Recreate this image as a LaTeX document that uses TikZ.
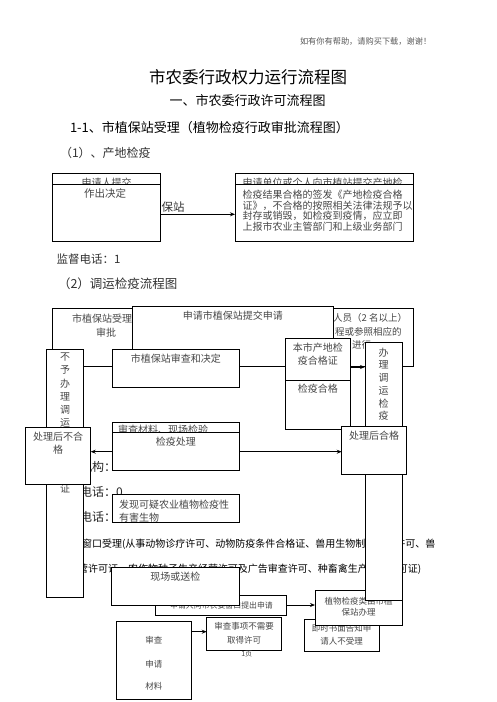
\documentclass[tikz,border=0pt]{standalone}
\usepackage{fontspec}
\setmainfont{Noto Sans CJK SC}
\usetikzlibrary{arrows.meta,fit}
\newcommand\fz[1]{\fontsize{#1}{#1}\selectfont}
\begin{document}
\begin{tikzpicture}[x=1pt,y=-1pt,
  bx/.style={draw=black, fill=white, line width=0.9pt, inner sep=0pt, outer sep=0pt},
  tx/.style={inner sep=0pt, outer sep=0pt, text=black!72},
  hd/.style={inner sep=0pt, outer sep=0pt, text=black},
  arr/.style={line width=0.9pt, -{Stealth[length=5pt,width=4pt]}},
  edge/.style={line width=0.9pt}]
\useasboundingbox[fill=white] (0,0) rectangle (496,702);

% header texts
\node[hd,text=black!65,font=\fz{8.2},anchor=west] (note) at (300,41) {如有你有帮助，请购买下载，谢谢！};
\node[hd,font=\fz{16.5}] (title) at (248,77) {市农委行政权力运行流程图};
\node[hd,font=\fz{13}] (sub) at (247.5,101) {一、市农委行政许可流程图};
\node[hd,font=\fz{13},anchor=west] (h11) at (70,128) {1-1、市植保站受理（植物检疫行政审批流程图）};
\node[hd,text=black!80,font=\fz{12},anchor=west] (h1) at (60,153) {（1）、产地检疫};

% section (1)
\node[bx, fit={(52.3,173.3)(160,241)}] (pa) {};
\begin{scope}
\clip (52.3,173.3) rectangle (160,184.3);
\node[tx,font=\fz{10}] (pah) at (106.7,183) {申请人提交};
\end{scope}
\draw[edge] (pa.west |- 0,184.3) -- (pa.east |- 0,184.3);
\node[tx,font=\fz{10.5}] (pat) at (105,193.7) {作出决定};

\node[bx, fit={(235,173.3)(413.3,241)}] (pb) {};
\begin{scope}
\clip (235,173.3) rectangle (413.3,184.3);
\node[tx,font=\fz{10},anchor=west] (pbh) at (242.7,183) {申请单位或个人向市植站提交产地检};
\end{scope}
\draw[edge] (pb.west |- 0,184.3) -- (pb.east |- 0,184.3);
\node[tx,font=\fz{10},anchor=west] (pb1) at (242.7,195) {检疫结果合格的签发《产地检疫合格};
\node[tx,font=\fz{10},anchor=west] (pb2) at (242.7,205.4) {证》，不合格的按照相关法律法规予以};
\node[tx,font=\fz{10},anchor=west] (pb3) at (242.7,215.8) {封存或销毁，如检疫到疫情，应立即};
\node[tx,font=\fz{10},anchor=west] (pb4) at (242.7,226.2) {上报市农业主管部门和上级业务部门};
\node[hd,text=black!80,font=\fz{11.5},anchor=west] (bz) at (161.7,206.7) {保站};
\draw[arr] (pa.east |- 0,214.3) -- (pb.west |- 0,214.3);

\node[hd,text=black!80,font=\fz{11.5},anchor=west] (jd1) at (56.7,259) {监督电话：1};
\node[hd,text=black!80,font=\fz{12.5},anchor=west] (h2) at (58,284) {（2）调运检疫流程图};

% section (2)
\node[bx, fit={(52.3,308.3)(150,366)}] (su) {};
\node[tx,font=\fz{10}] (su1) at (102,319) {市植保站受理};
\node[tx,font=\fz{10}] (su2) at (106,332.3) {审批};

\node[bx, fit={(300,308.3)(413.3,366)}] (jr) {};
\node[tx,font=\fz{9.5},anchor=east] (jr1) at (407,318) {检人员（2 名以上）};
\node[tx,font=\fz{9.5},anchor=east] (jr2) at (401.5,331.5) {程或参照相应的};
\node[tx,font=\fz{9.5},anchor=west] (jr3) at (352,345) {进行};

\node[bx, fit={(132.3,306)(333.3,366)}] (sq) {};
\node[tx,font=\fz{10}] (sqt) at (232.8,316) {申请市植保站提交申请};

\node[bx, fit={(285,338.3)(350.7,429)}] (bs) {};
\draw[edge] (bs.west |- 0,380) -- (bs.east |- 0,380);
\node[tx,font=\fz{10}] (bs1) at (317.8,347.7) {本市产地检};
\node[tx,font=\fz{10}] (bs2) at (317.8,361) {疫合格证};
\node[tx,font=\fz{10}] (bs3) at (317.8,389) {检疫合格};

\node[bx, fit={(112.3,349)(239.3,387.3)}] (sc) {};
\node[tx,font=\fz{10}] (sct) at (175.8,358.3) {市植保站审查和决定};

% texts partly behind boxes
\node[hd,text=black!85,font=\fz{12},anchor=west] (jg) at (80,466.7) {机构：};
\node[hd,text=black!85,font=\fz{12},anchor=west] (dh1) at (80,491.7) {电话：0};
\node[hd,text=black!85,font=\fz{12},anchor=west] (dh2) at (80,517.3) {电话：};
\node[hd,font=\fz{10},anchor=west] (ln1) at (82,544) {窗口受理(从事动物诊疗许可、动物防疫条件合格证、兽用生物制品经营许可、兽};
\node[hd,font=\fz{10},anchor=west] (ln2) at (78,569) {营许可证、农作物种子生产经营许可及广告审查许可、种畜禽生产经营许可证)};

% lower right boxes under the tall box
\node[bx, fit={(304.3,619.3)(379,651)}] (js) {};
\node[tx,font=\fz{8.5}] (js1) at (341.7,628.3) {即时书面告知申};
\node[tx,font=\fz{8.5}] (js2) at (341.7,641) {请人不受理};
\node[bx, fit={(315,590.7)(402.3,625)}] (zw) {};
\node[tx,font=\fz{8.5}] (zw1) at (358.7,601.7) {植物检疫类由市植};
\node[tx,font=\fz{8.5}] (zw2) at (358.7,612.7) {保站办理};

% tall box right
\node[bx, fit={(365,342.3)(402.3,600)}] (bl) {};
\foreach \c [count=\i from 0] in {办,理,调,运,检,疫}
  \node[tx,font=\fz{10}] (bl\i) at (383.7,{352.5+12.7*\i}) {\c};
\draw[arr] (bs.east |- 0,367) -- (bl.west |- 0,367);

% tall box left
\node[bx, fit={(46.7,349)(83.3,597)}] (by) {};
\foreach \c [count=\i from 0] in {不,予,办,理,调,运}
  \node[tx,font=\fz{10}] (by\i) at (65,{357+13.2*\i}) {\c};
\node[tx,font=\fz{10}] (byz) at (65,489) {证};

\node[bx, fit={(25.7,427.3)(90.7,484)}] (bhn) {};
\node[tx,font=\fz{10}] (bhn1) at (58.2,436.7) {处理后不合};
\node[tx,font=\fz{10}] (bhn2) at (58.2,450) {格};

\node[bx, fit={(112.3,422.3)(239.3,470)}] (cl) {};
\begin{scope}
\clip (112.3,422.3) rectangle (239.3,432.3);
\node[tx,font=\fz{10},anchor=west] (clh) at (118,430) {审查材料、现场检验};
\end{scope}
\draw[edge] (cl.west |- 0,432.3) -- (cl.east |- 0,432.3);
\node[tx,font=\fz{10}] (clt) at (175.8,441.7) {检疫处理};

\node[bx, fit={(341.7,426)(406.7,474)}] (bhh) {};
\node[tx,font=\fz{10}] (bhht) at (374.2,435.7) {处理后合格};

\draw[arr] (cl.west |- 0,451.7) -- (bhn.east |- 0,451.7);
\draw[arr] (cl.east |- 0,451.7) -- (bhh.west |- 0,451.7);

\node[bx, fit={(112.3,494.3)(239.3,522.7)}] (fx) {};
\node[tx,font=\fz{10},anchor=west] (fx1) at (119,504.3) {发现可疑农业植物检疫性};
\node[tx,font=\fz{10},anchor=west] (fx2) at (119,517.3) {有害生物};

\node[bx, fit={(155.7,595)(286.7,615)}] (sr) {};
\node[tx,font=\fz{7.9}] (srt) at (221.5,605) {申请人向市农委窗口提出申请};
\node[bx, fit={(111.7,567.3)(239,605)}] (xc) {};
\node[tx,font=\fz{10}] (xct) at (175.3,577) {现场或送检};
\draw[arr] (sr.east) -- (sr.east -| zw.west);

\node[bx, fit={(206.7,617.3)(281.7,650)}] (sx) {};
\node[tx,font=\fz{8.5}] (sx1) at (244.2,626.7) {审查事项不需要};
\node[tx,font=\fz{8.5}] (sx2) at (244.2,640) {取得许可};

\node[bx, fit={(116.7,621.7)(191,699.3)}] (sm) {};
\node[tx,font=\fz{8.5}] (sm1) at (153.8,640) {审查};
\node[tx,font=\fz{8.5}] (sm2) at (153.8,664.3) {申请};
\node[tx,font=\fz{8.5}] (sm3) at (153.8,686.7) {材料};
\draw[arr] (sm.east |- 0,631.7) -- (sx.west |- 0,631.7);

\node[tx,font=\fz{7}] (pg) at (246.7,654.3) {1页};
\end{tikzpicture}
\end{document}
